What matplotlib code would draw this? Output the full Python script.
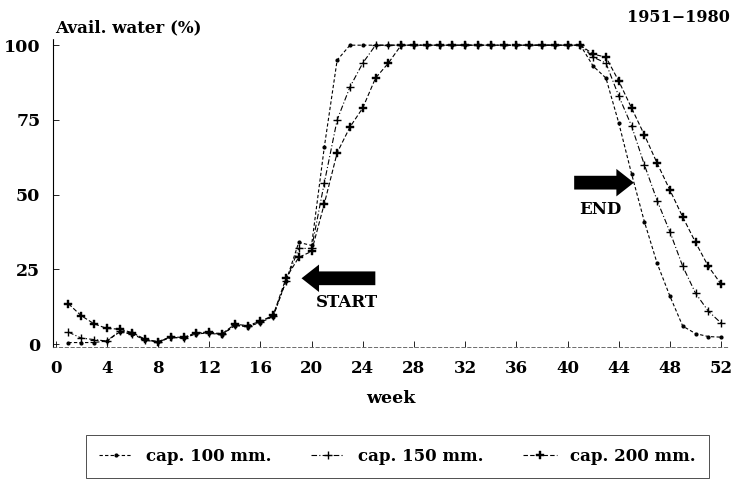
import matplotlib
matplotlib.use("Agg")
import matplotlib.pyplot as plt

weeks = list(range(1, 53))

cap100 = [0.5, 0.5, 0.5, 1, 4, 3.3, 1.3, 0.6, 2.2, 2.0, 3.4, 3.7, 3.0, 6.2, 5.8, 7.2, 9.2,
          21, 34, 33, 66, 95, 100, 100, 100, 100, 100, 100, 100, 100, 100, 100, 100, 100,
          100, 100, 100, 100, 100, 100, 100, 93, 89, 74, 57, 41, 27, 16, 6, 3.5, 2.5, 2.3]
cap150 = [4, 2, 1.5, 1, 4.3, 3.5, 1.4, 0.7, 2.3, 2.0, 3.6, 3.8, 3.2, 6.4, 6.0, 7.4, 9.4,
          21, 32, 32, 54, 75, 86, 94, 100, 100, 100, 100, 100, 100, 100, 100, 100, 100,
          100, 100, 100, 100, 100, 100, 100, 96, 94, 83, 73, 60, 48, 37.5, 26, 17, 11, 7]
cap200 = [13.5, 9.5, 6.8, 5.2, 5.0, 3.8, 1.6, 0.8, 2.4, 2.2, 3.8, 4.0, 3.4, 6.6, 6.2, 7.6, 9.6,
          22, 29, 31, 47, 64, 72.6, 79, 89, 94, 100, 100, 100, 100, 100, 100, 100, 100,
          100, 100, 100, 100, 100, 100, 100, 97, 96, 88, 79, 70, 60.5, 51.5, 42.5, 34, 26, 20]

xticks = list(range(0, 53, 4))
yticks = [0, 25, 50, 75, 100]
labels = ["cap. 100 mm.", "cap. 150 mm.", "cap. 200 mm."]

plt.rcParams['font.family'] = ['DejaVu Serif']
plt.rcParams['font.weight'] = 'bold'

fig = plt.figure(figsize=(7.33, 4.84), dpi=100)
ax = fig.add_axes([0.0723, 0.283, 0.922, 0.636])

ax.plot(weeks, cap100, color='black', lw=0.8, ls=(0, (3, 2)), marker='.', ms=4,
        label=labels[0])
ax.plot(weeks, cap150, color='black', lw=0.8, ls=(0, (5, 2, 1, 2)), marker='+', ms=6,
        mew=1.0, label=labels[1])
ax.plot(weeks, cap200, color='black', lw=0.8, ls=(0, (4, 2)), marker='P', ms=6,
        mew=0.3, label=labels[2])

ax.set_xlim(-0.2, 52.6)
ax.set_ylim(-1, 102)
ax.set_xticks(xticks)
ax.set_yticks(yticks)
ax.tick_params(axis='both', direction='in', length=4, width=0.6, labelsize=12)
ax.tick_params(axis='x', pad=9)
ax.tick_params(axis='y', pad=9, labelsize=12.5)
for lab in ax.get_xticklabels() + ax.get_yticklabels():
    lab.set_fontweight('bold')

for s in ['top', 'right']:
    ax.spines[s].set_visible(False)
ax.spines['left'].set_linestyle((0, (1, 1)))
ax.spines['left'].set_linewidth(0.8)
ax.spines['bottom'].set_linestyle((0, (4, 3)))
ax.spines['bottom'].set_linewidth(0.6)
ax.spines['bottom'].set_color('#555555')

ax.set_xlabel('week', fontsize=12.5, fontweight='bold', labelpad=10)

fig.text(0.075, 0.942, 'Avail. water (%)', fontsize=12, fontweight='bold', ha='left', va='center')
fig.text(0.996, 0.963, '1951\u22121980', fontsize=11.5, fontweight='bold', ha='right', va='center')

arrow_style = 'simple,head_length=0.7,head_width=1.1,tail_width=0.55'
ax.annotate('', xy=(19.0, 22), xytext=(25.2, 22),
            arrowprops=dict(arrowstyle=arrow_style, color='black', lw=0, mutation_scale=18))
ax.text(22.8, 14, 'START', fontsize=12, fontweight='bold', ha='center', va='center')
ax.annotate('', xy=(45.4, 54), xytext=(40.3, 54),
            arrowprops=dict(arrowstyle=arrow_style, color='black', lw=0, mutation_scale=18))
ax.text(42.6, 45, 'END', fontsize=12, fontweight='bold', ha='center', va='center')

leg = fig.legend(loc='center', bbox_to_anchor=(0.542, 0.057), ncol=3, frameon=True,
                 fancybox=False, edgecolor='black', fontsize=12, handlelength=2.0,
                 columnspacing=2.4, borderpad=0.8, handletextpad=0.8)
leg.get_frame().set_linewidth(0.6)
for t in leg.get_texts():
    t.set_fontweight('bold')

fig.savefig('out.png', dpi=100, facecolor='white')
